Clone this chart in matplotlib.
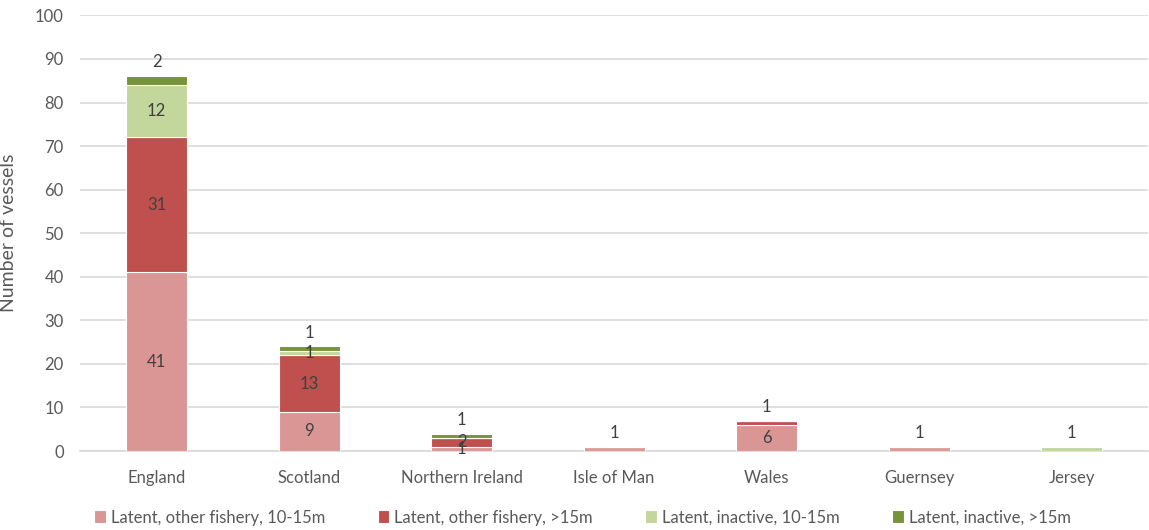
import matplotlib
matplotlib.use("Agg")
import matplotlib.pyplot as plt
import numpy as np

# Vessel counts by administration
regions = ["England", "Scotland", "Northern Ireland", "Isle of Man", "Wales", "Guernsey", "Jersey"]
series_names = [
    "Latent, other fishery, 10-15m",
    "Latent, other fishery, >15m",
    "Latent, inactive, 10-15m",
    "Latent, inactive, >15m",
]
other_fishery_10_15 = [41, 9, 1, 1, 6, 1, 0]
other_fishery_over15 = [31, 13, 2, 0, 1, 0, 0]
inactive_10_15 = [12, 1, 0, 0, 0, 0, 1]
inactive_over15 = [2, 1, 1, 0, 0, 0, 0]
y_ticks = [0, 10, 20, 30, 40, 50, 60, 70, 80, 90, 100]

colors = ["#D99694", "#C0504D", "#C3D69B", "#77933C"]
text_color = "#595959"
grid_color = "#D9D9D9"

plt.rcParams["font.family"] = ["Lato", "DejaVu Sans"]

fig = plt.figure(figsize=(11.49, 5.30), dpi=100)
ax = fig.add_axes([0.070, 0.149, 0.929, 0.822])

series = [other_fishery_10_15, other_fishery_over15, inactive_10_15, inactive_over15]
x = np.arange(len(regions))
bottom = np.zeros(len(regions))
width = 0.4

# index of the topmost non-empty segment in each stack
top_idx = []
for i in range(len(regions)):
    t = -1
    for s, vals in enumerate(series):
        if vals[i] > 0:
            t = s
    top_idx.append(t)

for s, (vals, col, name) in enumerate(zip(series, colors, series_names)):
    vals = np.array(vals, dtype=float)
    ax.bar(x, vals, width, bottom=bottom, color=col, edgecolor="white",
           linewidth=0.8, label=name, zorder=3)
    for i, v in enumerate(vals):
        if v <= 0:
            continue
        if s == top_idx[i] and v <= 2:
            ax.annotate(f"{int(v)}", (x[i], bottom[i] + v), xytext=(0, 10),
                        textcoords="offset points", ha="center", va="center",
                        fontsize=12, color="#404040")
        else:
            ax.text(x[i], bottom[i] + v / 2, f"{int(v)}", ha="center", va="center",
                    fontsize=12, color="#404040", zorder=4)
    bottom += vals

ax.set_ylim(0, 100)
ax.set_xlim(-0.5, len(regions) - 0.5)
ax.set_yticks(y_ticks)
ax.set_xticks(x)
ax.set_xticklabels(regions)
ax.tick_params(axis="both", length=0, labelsize=12, colors=text_color)
ax.tick_params(axis="x", pad=14)
ax.tick_params(axis="y", pad=12)
ax.yaxis.grid(True, color=grid_color, linewidth=1.2, zorder=0)
ax.set_axisbelow(True)
for sp in ["top", "right", "left"]:
    ax.spines[sp].set_visible(False)
ax.spines["bottom"].set_color(grid_color)
ax.spines["bottom"].set_linewidth(1.2)
ax.set_ylabel("Number of vessels", fontsize=14, color=text_color)
ax.yaxis.set_label_coords(-0.059, 0.5)

leg = fig.legend(loc="lower center", bbox_to_anchor=(0.507, -0.02), ncol=4, frameon=False,
                 fontsize=12, handlelength=0.7, handleheight=0.8, handletextpad=0.3,
                 columnspacing=3.15, labelcolor=text_color)

fig.savefig("out.png", dpi=100)
